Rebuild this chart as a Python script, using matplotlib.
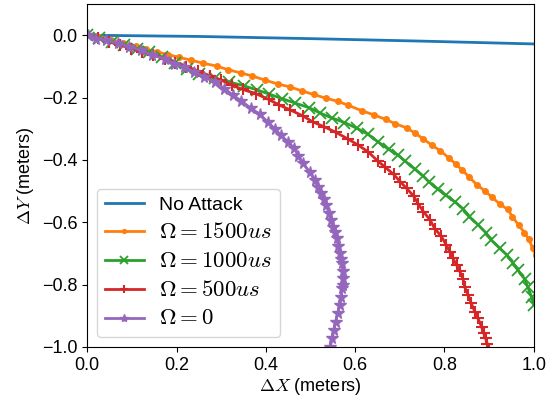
import matplotlib
matplotlib.use('Agg')
import matplotlib.pyplot as plt

plt.rcParams['font.family'] = ['Liberation Sans', 'DejaVu Sans']
plt.rcParams['mathtext.fontset'] = 'cm'

# No attack
x_none = [0.0, 0.25, 0.5, 0.75, 1.0]
y_none = [0.0, -0.004, -0.011, -0.019, -0.028]

# Omega = 1500us
x_1500 = [0.0, 0.027, 0.054, 0.081, 0.108, 0.132, 0.157, 0.180, 0.206, 0.232,
          0.260, 0.290, 0.316, 0.344, 0.370, 0.398, 0.428, 0.455, 0.481, 0.507,
          0.534, 0.561, 0.585, 0.616, 0.643, 0.668, 0.690, 0.715, 0.733, 0.753,
          0.772, 0.791, 0.810, 0.825, 0.840, 0.856, 0.872, 0.890, 0.907, 0.924,
          0.942, 0.952, 0.966, 0.979, 0.989, 0.998, 1.005]
y_1500 = [0.0, -0.006, -0.014, -0.024, -0.034, -0.045, -0.054, -0.062, -0.071, -0.080,
          -0.090, -0.099, -0.111, -0.121, -0.131, -0.144, -0.157, -0.166, -0.179, -0.190,
          -0.202, -0.212, -0.225, -0.243, -0.256, -0.270, -0.284, -0.297, -0.313, -0.333,
          -0.353, -0.371, -0.394, -0.413, -0.433, -0.456, -0.479, -0.499, -0.520, -0.542,
          -0.559, -0.582, -0.609, -0.633, -0.655, -0.684, -0.705]

# Omega = 1000us
x_1000 = [0.0, 0.027, 0.056, 0.083, 0.112, 0.139, 0.168, 0.197, 0.224, 0.251,
          0.285, 0.318, 0.350, 0.379, 0.408, 0.437, 0.466, 0.496, 0.522, 0.549,
          0.576, 0.603, 0.628, 0.651, 0.675, 0.696, 0.712, 0.733, 0.752, 0.765,
          0.785, 0.803, 0.823, 0.841, 0.856, 0.876, 0.893, 0.905, 0.924, 0.940,
          0.953, 0.964, 0.980, 0.987, 0.995, 1.000]
y_1000 = [0.0, -0.010, -0.021, -0.032, -0.043, -0.054, -0.071, -0.090, -0.109, -0.125,
          -0.138, -0.150, -0.162, -0.175, -0.189, -0.204, -0.218, -0.232, -0.250, -0.266,
          -0.280, -0.298, -0.317, -0.342, -0.366, -0.385, -0.404, -0.429, -0.451, -0.470,
          -0.494, -0.513, -0.534, -0.556, -0.582, -0.609, -0.634, -0.657, -0.684, -0.705,
          -0.730, -0.753, -0.783, -0.809, -0.839, -0.865]

# Omega = 500us
x_500 = [0.0, 0.025, 0.049, 0.074, 0.099, 0.123, 0.148, 0.173, 0.197, 0.222,
         0.247, 0.274, 0.300, 0.323, 0.348, 0.377, 0.406, 0.430, 0.455, 0.483,
         0.505, 0.531, 0.556, 0.584, 0.606, 0.629, 0.651, 0.666, 0.686, 0.701,
         0.715, 0.731, 0.741, 0.753, 0.768, 0.778, 0.793, 0.804, 0.812, 0.819,
         0.827, 0.834, 0.842, 0.845, 0.853, 0.860, 0.868, 0.875, 0.883, 0.888,
         0.892, 0.896, 0.899]
y_500 = [0.0, -0.010, -0.021, -0.032, -0.043, -0.054, -0.064, -0.075, -0.088, -0.101,
         -0.114, -0.130, -0.144, -0.160, -0.174, -0.187, -0.206, -0.224, -0.240, -0.259,
         -0.278, -0.294, -0.311, -0.333, -0.352, -0.374, -0.404, -0.422, -0.446, -0.470,
         -0.491, -0.516, -0.541, -0.566, -0.593, -0.620, -0.645, -0.673, -0.694, -0.716,
         -0.737, -0.756, -0.783, -0.807, -0.833, -0.860, -0.887, -0.908, -0.935, -0.956,
         -0.972, -0.990, -1.010]

# Omega = 0
x_0 = [0.001, 0.020, 0.042, 0.068, 0.094, 0.120, 0.146, 0.173, 0.195, 0.217,
       0.240, 0.262, 0.285, 0.307, 0.326, 0.345, 0.367, 0.386, 0.404, 0.421,
       0.434, 0.449, 0.464, 0.473, 0.483, 0.498, 0.509, 0.517, 0.524, 0.530,
       0.535, 0.541, 0.546, 0.550, 0.554, 0.559, 0.562, 0.565, 0.568, 0.571,
       0.572, 0.572, 0.572, 0.571, 0.568, 0.565, 0.561, 0.556, 0.552, 0.549,
       0.544, 0.541]
y_0 = [0.0, -0.011, -0.016, -0.026, -0.037, -0.048, -0.064, -0.075, -0.091, -0.102,
       -0.118, -0.134, -0.150, -0.171, -0.192, -0.211, -0.235, -0.253, -0.278, -0.302,
       -0.321, -0.342, -0.363, -0.388, -0.411, -0.438, -0.465, -0.487, -0.507, -0.526,
       -0.545, -0.569, -0.593, -0.614, -0.630, -0.652, -0.676, -0.699, -0.718, -0.732,
       -0.756, -0.780, -0.801, -0.812, -0.839, -0.865, -0.892, -0.919, -0.946, -0.972,
       -0.999, -1.015]

fig = plt.figure(figsize=(5.56, 4.03), dpi=100)
ax = fig.add_axes([0.157, 0.139, 0.803, 0.851])

ax.plot(x_none, y_none, color='#1f77b4', lw=2, label='No Attack')
ax.plot(x_1500, y_1500, color='#ff7f0e', lw=2, marker='o', ms=4, label=r'$\Omega = 1500us$')
ax.plot(x_1000, y_1000, color='#2ca02c', lw=2, marker='x', ms=9, mew=1.3, label=r'$\Omega = 1000us$')
ax.plot(x_500, y_500, color='#d62728', lw=2, marker='+', ms=9, mew=1.5, label=r'$\Omega = 500us$')
ax.plot(x_0, y_0, color='#9467bd', lw=2, marker='*', ms=8.5, label=r'$\Omega = 0$')

ax.set_xlim(0, 1)
ax.set_ylim(-1, 0.1)
ax.set_xticks([0.0, 0.2, 0.4, 0.6, 0.8, 1.0])
ax.set_yticks([0.0, -0.2, -0.4, -0.6, -0.8, -1.0])
ax.tick_params(labelsize=13)
ax.set_xlabel(r'$\Delta X$ (meters)', fontsize=13, labelpad=2)
ax.set_ylabel(r'$\Delta Y$ (meters)', fontsize=13)
leg = ax.legend(loc='lower left', fontsize=14, labelspacing=0.3, markerscale=0.7)
for t in leg.get_texts()[1:]:
    t.set_fontsize(16.5)

fig.savefig('out.png', dpi=100)
